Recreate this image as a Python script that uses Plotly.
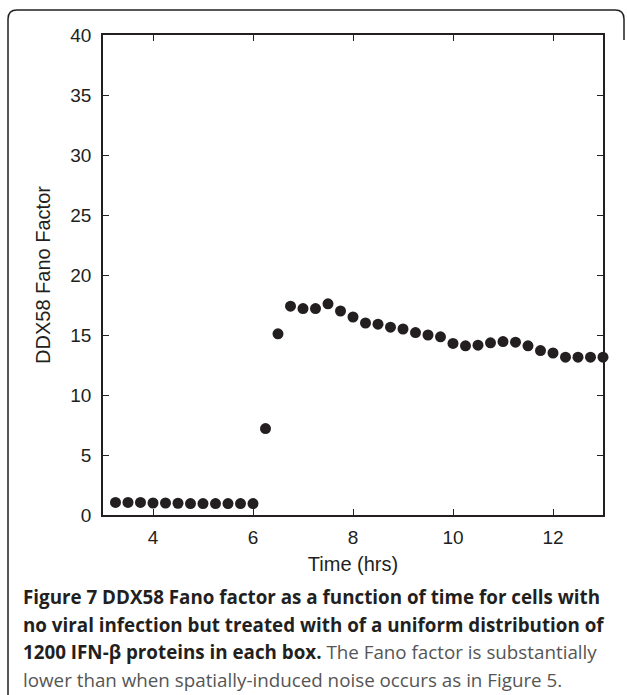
import plotly.graph_objects as go

# Data
time_hrs = [3.25, 3.5, 3.75, 4.0, 4.25, 4.5, 4.75, 5.0, 5.25, 5.5, 5.75, 6.0,
            6.25, 6.5, 6.75, 7.0, 7.25, 7.5, 7.75, 8.0, 8.25, 8.5, 8.75, 9.0,
            9.25, 9.5, 9.75, 10.0, 10.25, 10.5, 10.75, 11.0, 11.25, 11.5, 11.75,
            12.0, 12.25, 12.5, 12.75, 13.0]
fano = [1.05, 1.05, 1.05, 1.0, 1.0, 0.98, 0.95, 0.95, 0.95, 0.95, 0.95, 0.95,
        7.2, 15.1, 17.4, 17.2, 17.2, 17.6, 17.0, 16.5, 16.0, 15.9, 15.65, 15.5,
        15.2, 15.0, 14.85, 14.3, 14.1, 14.15, 14.35, 14.45, 14.4, 14.1, 13.7,
        13.5, 13.15, 13.15, 13.15, 13.15]
x_ticks = [4, 6, 8, 10, 12]
y_ticks = [0, 5, 10, 15, 20, 25, 30, 35, 40]

caption_lines = [
    "<b>Figure 7 DDX58 Fano factor as a function of time for cells with</b>",
    "<b>no viral infection but treated with of a uniform distribution of</b>",
    "<b>1200 IFN-β proteins in each box.</b> <span style='color:#555'>The Fano factor is substantially</span>",
    "<span style='color:#555'>lower than when spatially-induced noise occurs as in Figure 5.</span>",
]

W, H = 627, 695
L, R, T, B = 103, 24, 35, 180
pw, ph = W - L - R, H - T - B


def px(x):
    return (x - L) / pw


def py(y):
    return (H - B - y) / ph


fig = go.Figure()
fig.add_trace(go.Scatter(
    x=time_hrs, y=fano, mode="markers",
    marker=dict(color="#231f20", size=11, line=dict(width=0)),
    cliponaxis=False, showlegend=False,
))

axis_common = dict(
    showgrid=False, zeroline=False, showline=True, linecolor="#231f20",
    linewidth=1.5, mirror="ticks", ticks="inside", ticklen=6, tickwidth=1,
    tickcolor="#231f20",
    tickfont=dict(family="Liberation Sans, Arial", size=19, color="#231f20"),
)

fig.update_layout(
    width=W, height=H,
    margin=dict(l=L, r=R, t=T, b=B),
    paper_bgcolor="white", plot_bgcolor="white",
    xaxis=dict(range=[3, 13], tickvals=x_ticks, ticklabelstandoff=4,
               title=dict(text="Time (hrs)", standoff=10,
                          font=dict(family="Liberation Sans, Arial", size=20, color="#231f20")),
               **axis_common),
    yaxis=dict(range=[0, 40], tickvals=y_ticks, ticklabelstandoff=6,
               title=dict(text="DDX58 Fano Factor", standoff=14,
                          font=dict(family="Liberation Sans, Arial", size=20, color="#231f20")),
               **axis_common),
)

# Caption lines
line_y = [597, 625, 652, 680]
for txt, yy in zip(caption_lines, line_y):
    fig.add_annotation(
        x=px(21), y=py(yy), xref="paper", yref="paper",
        xanchor="left", yanchor="middle", showarrow=False, align="left",
        text=txt, font=dict(family="Open Sans", size=18.8, color="#231f20"),
    )

# Rounded frame around figure + caption
x0, x1 = px(8), px(624)
ytop = py(10)
ybot = py(720)
rx, ry = 9 / pw, 9 / ph
path = (f"M {x0},{ybot} L {x0},{ytop - ry} Q {x0},{ytop} {x0 + rx},{ytop} "
        f"L {x1 - rx},{ytop} Q {x1},{ytop} {x1},{ytop - ry} L {x1},{py(40)}")
fig.add_shape(type="path", path=path, xref="paper", yref="paper",
              line=dict(color="#231f20", width=1.5))

fig.write_html("out.html")
